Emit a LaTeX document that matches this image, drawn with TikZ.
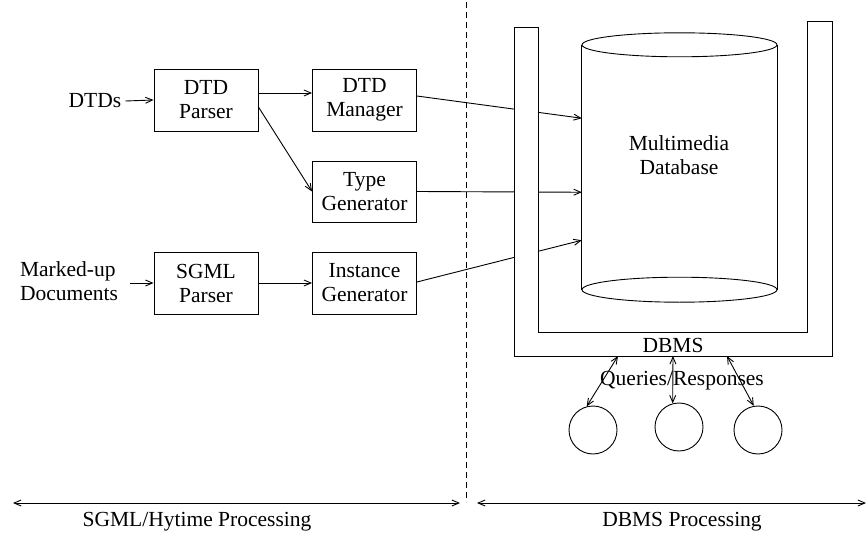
\documentclass[tikz,border=0pt]{standalone}
\usepackage{fontspec}
\setmainfont{Liberation Serif}
\usetikzlibrary{arrows.meta,calc}
\begin{document}
\begin{tikzpicture}[x=1pt,y=-1pt,
  every node/.style={font=\fontsize{21.5}{24}\selectfont},
  line/.style={line width=0.9pt},
  arr/.style={line, -{Straight Barb[length=7pt,width=6pt]}},
  darr/.style={line, {Straight Barb[length=7pt,width=6pt]}-{Straight Barb[length=7pt,width=6pt]}},
  box/.style={draw, line width=0.9pt, minimum width=104pt, minimum height=62pt, align=center, inner sep=0pt},
  lbl/.style={align=center, inner sep=0pt},
  circ/.style={draw, line width=0.9pt, circle, minimum size=48pt, inner sep=0pt}]
\useasboundingbox (0,0) rectangle (868,535);

% left part
\node[lbl, inner sep=4pt] (dtds) at (95,101) {DTDs};
\node[box] (dtdp) at (206,100) {DTD\\Parser};
\node[box] (dtdm) at (364.5,100) {DTD\\Manager};
\node[box, minimum height=61pt] (typg) at (364.5,191.5) {Type\\Generator};
\node[lbl, inner sep=0pt, align=left] (mkd) at (69,281) {Marked-up\\Documents};
\node[box] (sgmlp) at (206,283) {SGML\\Parser};
\node[box] (instg) at (364.5,283) {Instance\\Generator};

\draw[arr] ($(mkd.east)+(12,2)$) -- (sgmlp.west);
\draw[arr] (dtds.east) -- (dtdp.west);
\draw[arr] ($(dtdp.east)+(0,-7)$) -- ($(dtdm.west)+(0,-7)$);
\draw[arr] ($(dtdp.east)+(0,7)$) -- (typg.west);
\draw[arr] (sgmlp.east) -- (instg.west);

% database node (invisible frame of the cylinder)
\node[minimum width=195pt, minimum height=244.5pt, inner sep=0pt] (db) at (679.5,167.25) {};
\draw[arr] ($(dtdm.east)+(0,-4)$) -- ($(db.west)+(0,-49)$);
\draw[arr] (typg.east) -- ($(db.west)+(0,25)$);
\draw[arr] ($(instg.east)+(0,-1)$) -- ($(db.west)+(0,73)$);

% DBMS U-shaped container
\draw[line, fill=white] (514,27) -- (514,356) -- (832,356) -- (832,21) -- (807,21) -- (807,332) -- (538,332) -- (538,27) -- cycle;

% cylinder
\draw[line] (db.north west) -- (db.south west);
\draw[line] (db.north east) -- (db.south east);
\draw[line] (db.north) ellipse [x radius=97.5, y radius=12];
\draw[line] (db.south) ellipse [x radius=97.5, y radius=12.5];
\node[lbl] (dbtxt) at (679,155) {Multimedia\\Database};

\node[lbl] (dbms) at (673,345) {DBMS};
\node[lbl] (qr) at (682,381) {Queries/Responses};

\node[circ] (c1) at (593,430) {};
\node[circ] (c2) at (679,427) {};
\node[circ] (c3) at (758,430) {};
\coordinate (q1) at (618,356);
\coordinate (q2) at (673,356);
\coordinate (q3) at (727,356);
\draw[darr] (q1) -- (c1.105);
\draw[darr] (q2) -- (c2.105);
\draw[darr] (q3) -- (c3.100);

% divider and ranges
\coordinate (dtop) at (466,2);
\coordinate (dbot) at (466,502);
\draw[line, dash pattern=on 6pt off 4pt] (dtop) -- (dbot);
\coordinate (l1) at (13,503);
\coordinate (l2) at (460,503);
\coordinate (r1) at (477,503);
\coordinate (r2) at (866,503);
\draw[darr] (l1) -- (l2);
\draw[darr] (r1) -- (r2);
\node[lbl] (sgmllbl) at (197,522) {SGML/Hytime Processing};
\node[lbl] (dbmslbl) at (682,522) {DBMS Processing};
\end{tikzpicture}
\end{document}
